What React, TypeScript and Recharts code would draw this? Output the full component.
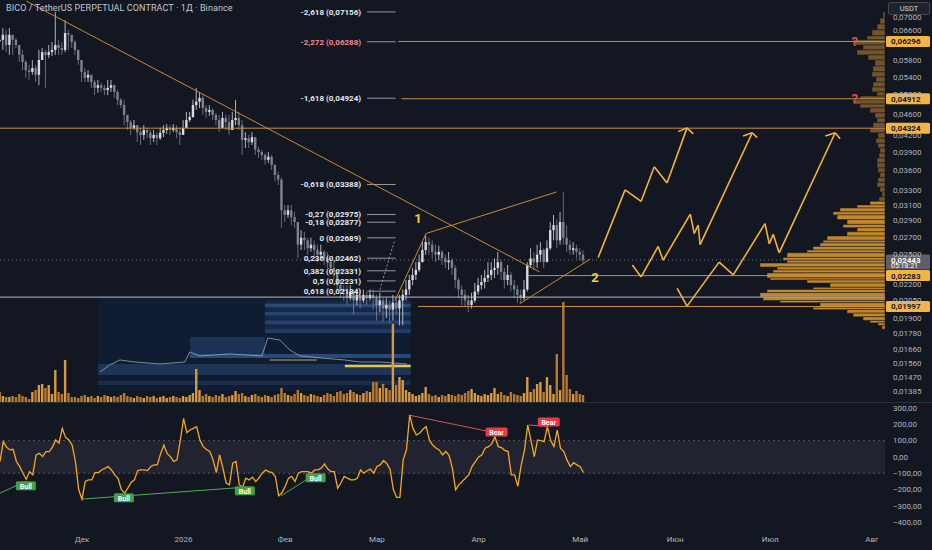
import React from 'react'
import { ComposedChart, Bar, Line, XAxis, YAxis, ReferenceLine, ReferenceArea, ReferenceDot, Cell } from 'recharts'

const BG = '#131722'
const FONT = 'Roboto, "Noto Sans", sans-serif'
const AXIS_TXT = '#b2b5be'
const UP = '#d9dbe0'
const DOWN = '#7e828f'
const ORANGE = '#c98f3f'
const PROJ = '#f2b33d'
const TAG_BG = '#f3b447'

// daily candles, day 0 = first visible candle (early Nov)
const START_OPEN = 0.0630
const CLOSE = [
  0.0634, 0.0648, 0.0620, 0.0648, 0.0634, 0.0620, 0.0594, 0.0576, 0.0556, 0.0552,
  0.0561, 0.0545, 0.0581, 0.0601, 0.0594, 0.0601, 0.0607, 0.0620, 0.0612, 0.0607,
  0.0653, 0.0648, 0.0628, 0.0607, 0.0581, 0.0552, 0.0538, 0.0545, 0.0528, 0.0515,
  0.0521, 0.0515, 0.0510, 0.0515, 0.0521, 0.0506, 0.0489, 0.0478, 0.0458, 0.0444,
  0.0433, 0.0438, 0.0425, 0.0420, 0.0429, 0.0424, 0.0414, 0.0420, 0.0414, 0.0424,
  0.0429, 0.0433, 0.0429, 0.0433, 0.0425, 0.0420, 0.0433, 0.0448, 0.0454, 0.0478,
  0.0485, 0.0493, 0.0472, 0.0464, 0.0468, 0.0458, 0.0448, 0.0433, 0.0452, 0.0444,
  0.0429, 0.0448, 0.0452, 0.0438, 0.0411, 0.0414, 0.0407, 0.0416, 0.0394, 0.0390,
  0.0385, 0.0377, 0.0382, 0.0369, 0.0353, 0.0346, 0.0303, 0.0297, 0.0303, 0.0294,
  0.0288, 0.0261, 0.0269, 0.0266, 0.0257, 0.0261, 0.0255, 0.0250, 0.0253, 0.0246,
  0.0242, 0.0236, 0.0232, 0.0219, 0.0215, 0.0213, 0.0207, 0.0213, 0.0205, 0.0210,
  0.0205, 0.0210, 0.0207, 0.0210, 0.0207, 0.0201, 0.0205, 0.0198, 0.0201, 0.0197,
  0.0203, 0.0198, 0.0205, 0.0210, 0.0215, 0.0224, 0.0229, 0.0234, 0.0242, 0.0255,
  0.0264, 0.0261, 0.0253, 0.0250, 0.0253, 0.0246, 0.0242, 0.0244, 0.0236, 0.0224,
  0.0215, 0.0210, 0.0205, 0.0201, 0.0205, 0.0213, 0.0219, 0.0222, 0.0226, 0.0229,
  0.0234, 0.0236, 0.0242, 0.0232, 0.0224, 0.0229, 0.0219, 0.0215, 0.0210, 0.0207,
  0.0215, 0.0239, 0.0246, 0.0242, 0.0250, 0.0255, 0.0242, 0.0257, 0.0278, 0.0284,
  0.0266, 0.0288, 0.0269, 0.0261, 0.0255, 0.0257, 0.0253, 0.0250, 0.0244,
]
const HIGH = [
  0.0667, 0.0667, 0.0662, 0.0667, 0.0639, 0.0639, 0.0620, 0.0607, 0.0581, 0.0569,
  0.0581, 0.0569, 0.0607, 0.0612, 0.0607, 0.0620, 0.0628, 0.0715, 0.0634, 0.0628,
  0.0691, 0.0662, 0.0648, 0.0634, 0.0607, 0.0581, 0.0561, 0.0556, 0.0545, 0.0533,
  0.0533, 0.0526, 0.0521, 0.0533, 0.0533, 0.0521, 0.0510, 0.0493, 0.0489, 0.0458,
  0.0448, 0.0448, 0.0438, 0.0433, 0.0438, 0.0433, 0.0429, 0.0429, 0.0425, 0.0433,
  0.0438, 0.0440, 0.0438, 0.0440, 0.0438, 0.0433, 0.0448, 0.0464, 0.0464, 0.0489,
  0.0515, 0.0506, 0.0499, 0.0478, 0.0478, 0.0472, 0.0462, 0.0458, 0.0464, 0.0458,
  0.0458, 0.0464, 0.0489, 0.0464, 0.0448, 0.0425, 0.0420, 0.0425, 0.0411, 0.0399,
  0.0394, 0.0388, 0.0390, 0.0385, 0.0364, 0.0358, 0.0349, 0.0310, 0.0310, 0.0310,
  0.0301, 0.0288, 0.0278, 0.0276, 0.0269, 0.0269, 0.0266, 0.0261, 0.0261, 0.0255,
  0.0253, 0.0246, 0.0242, 0.0234, 0.0224, 0.0219, 0.0219, 0.0219, 0.0215, 0.0216,
  0.0215, 0.0215, 0.0213, 0.0215, 0.0215, 0.0210, 0.0212, 0.0207, 0.0207, 0.0205,
  0.0210, 0.0207, 0.0210, 0.0215, 0.0224, 0.0229, 0.0236, 0.0242, 0.0250, 0.0264,
  0.0272, 0.0269, 0.0266, 0.0261, 0.0260, 0.0255, 0.0250, 0.0253, 0.0246, 0.0239,
  0.0226, 0.0219, 0.0215, 0.0210, 0.0212, 0.0221, 0.0226, 0.0229, 0.0234, 0.0242,
  0.0242, 0.0246, 0.0253, 0.0244, 0.0236, 0.0239, 0.0232, 0.0224, 0.0219, 0.0215,
  0.0224, 0.0242, 0.0257, 0.0253, 0.0261, 0.0264, 0.0257, 0.0266, 0.0288, 0.0297,
  0.0291, 0.0301, 0.0328, 0.0284, 0.0266, 0.0264, 0.0261, 0.0257, 0.0255,
]
const LOW = [
  0.0594, 0.0607, 0.0601, 0.0594, 0.0594, 0.0612, 0.0576, 0.0556, 0.0538, 0.0533,
  0.0545, 0.0528, 0.0521, 0.0581, 0.0515, 0.0586, 0.0591, 0.0594, 0.0594, 0.0594,
  0.0601, 0.0607, 0.0612, 0.0594, 0.0569, 0.0528, 0.0528, 0.0528, 0.0515, 0.0499,
  0.0504, 0.0506, 0.0499, 0.0499, 0.0506, 0.0493, 0.0478, 0.0472, 0.0438, 0.0429,
  0.0420, 0.0429, 0.0407, 0.0402, 0.0411, 0.0414, 0.0402, 0.0407, 0.0402, 0.0411,
  0.0416, 0.0422, 0.0420, 0.0425, 0.0414, 0.0402, 0.0420, 0.0433, 0.0444, 0.0452,
  0.0468, 0.0472, 0.0458, 0.0452, 0.0456, 0.0448, 0.0438, 0.0425, 0.0438, 0.0429,
  0.0420, 0.0433, 0.0438, 0.0429, 0.0385, 0.0397, 0.0397, 0.0402, 0.0385, 0.0380,
  0.0377, 0.0369, 0.0372, 0.0361, 0.0343, 0.0338, 0.0281, 0.0288, 0.0293, 0.0284,
  0.0281, 0.0246, 0.0255, 0.0255, 0.0250, 0.0253, 0.0246, 0.0242, 0.0244, 0.0239,
  0.0236, 0.0229, 0.0224, 0.0213, 0.0207, 0.0205, 0.0201, 0.0205, 0.0193, 0.0201,
  0.0198, 0.0203, 0.0201, 0.0205, 0.0197, 0.0188, 0.0195, 0.0187, 0.0190, 0.0186,
  0.0188, 0.0193, 0.0184, 0.0184, 0.0205, 0.0210, 0.0219, 0.0224, 0.0232, 0.0242,
  0.0250, 0.0250, 0.0246, 0.0242, 0.0244, 0.0239, 0.0236, 0.0234, 0.0229, 0.0216,
  0.0207, 0.0201, 0.0200, 0.0195, 0.0198, 0.0203, 0.0210, 0.0215, 0.0216, 0.0222,
  0.0224, 0.0226, 0.0229, 0.0224, 0.0216, 0.0219, 0.0213, 0.0207, 0.0203, 0.0203,
  0.0205, 0.0213, 0.0236, 0.0234, 0.0236, 0.0242, 0.0236, 0.0242, 0.0255, 0.0266,
  0.0257, 0.0261, 0.0261, 0.0253, 0.0250, 0.0250, 0.0246, 0.0244, 0.0241,
]
const VOLUME = [
  10, 6, 5, 5, 6, 5, 8, 6, 5, 3,
  10, 12, 17, 18, 14, 17, 8, 32, 10, 8,
  42, 9, 5, 5, 4, 6, 7, 5, 6, 4,
  6, 5, 7, 6, 5, 6, 5, 7, 9, 6,
  5, 4, 6, 5, 4, 6, 5, 6, 4, 5,
  6, 4, 5, 6, 5, 4, 6, 5, 7, 9,
  33, 12, 6, 8, 6, 5, 7, 6, 8, 5,
  6, 7, 11, 8, 9, 6, 5, 7, 8, 6,
  5, 7, 6, 5, 7, 8, 14, 9, 7, 6,
  8, 12, 9, 7, 6, 8, 7, 6, 5, 7,
  9, 8, 6, 10, 11, 8, 9, 12, 10, 8,
  7, 9, 11, 10, 20, 20, 14, 18, 14, 12,
  78, 17, 25, 22, 12, 10, 8, 6, 7, 9,
  15, 8, 6, 7, 5, 7, 6, 8, 7, 6,
  8, 7, 9, 11, 13, 9, 7, 6, 8, 7,
  9, 14, 8, 10, 7, 6, 10, 8, 7, 6,
  9, 25, 10, 13, 18, 20, 10, 25, 17, 8,
  48, 12, 100, 27, 13, 8, 11, 8, 7,
]
const OSC = [
  -28, 94, 60, 43, 47, -28, -60, -100, -137, -90,
  -110, 12, 22, 2, 33, 33, 60, 104, 84, 175,
  120, 104, 73, -28, -200, -259, -151, -141, -141, -96,
  -96, -80, -70, -59, -80, -110, -131, -200, -222, -192,
  -157, -141, -84, -80, -80, -84, -59, -49, -49, 20,
  73, 20, 2, -28, -18, 100, 236, 149, 165, 175,
  186, 104, 63, 45, 33, -18, -96, 12, -69, -160,
  -171, -39, -28, -171, -186, -131, -141, -124, -151, -130,
  -100, -80, -90, -96, -120, -238, -220, -181, -131, -120,
  -151, -100, -90, -90, -90, -100, -80, -80, -69, -43,
  -75, -90, -90, -192, -160, -120, -130, -141, -141, -131,
  -80, -100, -85, -75, -100, -59, -49, -22, -40, -75,
  -200, -249, -249, -18, 43, 257, 175, 135, 145, 170,
  186, 104, 73, 55, 43, 12, 33, 10, -69, -202,
  -170, -151, -131, -110, -59, -30, 0, 12, 53, 63,
  80, 124, 63, 57, 40, 33, -110, -110, -181, -50,
  40, 196, 100, 2, 104, 100, 94, 186, 100, 63,
  165, 53, 33, -20, -59, -35, -49, -60, -96,
]

const MONTH_TICKS = [25, 56, 87, 115, 146, 177, 206, 235, 266]
const MONTH_LABELS = ['Дек', '2026', 'Фев', 'Мар', 'Апр', 'Май', 'Июн', 'Июл', 'Авг']
const PRICE_TICKS = [0.07, 0.066, 0.058, 0.054, 0.05, 0.046, 0.042, 0.039, 0.036, 0.033, 0.031, 0.029, 0.027, 0.025, 0.022, 0.0205, 0.019, 0.0178, 0.0166, 0.0156, 0.0147, 0.01385]
const OSC_TICKS = [300, 200, 100, 0, -100, -200, -300, -400]

const FIB_LEVELS = [-2.618, -2.272, -1.618, -0.618, -0.27, -0.18, 0, 0.236, 0.382, 0.5, 0.618]
const FIB_PRICES = [0.07156, 0.06288, 0.04924, 0.03388, 0.02975, 0.02877, 0.02689, 0.02462, 0.02331, 0.02231, 0.02134]

// visible range volume profile: bin edges (price) and relative volume per bin
const PROFILE_EDGES = [
  0.0715, 0.0697, 0.0679, 0.0662, 0.0645, 0.0634, 0.0620, 0.0607, 0.0594, 0.0581,
  0.0566, 0.0552, 0.0540, 0.0528, 0.0517, 0.0506, 0.0497, 0.0489, 0.0480, 0.0472,
  0.0462, 0.0452, 0.0443, 0.0433, 0.0424, 0.0414, 0.0405, 0.0397, 0.0388, 0.0380,
  0.0372, 0.0364, 0.0357, 0.0349, 0.0342, 0.0335, 0.0328, 0.0321, 0.0315, 0.0310,
  0.0306, 0.0301, 0.0297, 0.0291, 0.0285, 0.0281, 0.0276, 0.0271, 0.0266, 0.0263,
  0.0259, 0.0255, 0.0252, 0.0247, 0.0244, 0.0241, 0.0237, 0.0234, 0.0231, 0.0226,
  0.0224, 0.0221, 0.0217, 0.0215, 0.0212, 0.0208, 0.0205, 0.0203, 0.0199, 0.0197,
  0.0194, 0.0191, 0.0188, 0.0186, 0.0184, 0.0181,
]
const PROFILE_VOL = [
  2, 5, 8, 13, 18, 32, 22, 28, 17, 10,
  12, 13, 9, 12, 13, 8, 25, 32, 25, 15,
  10, 8, 12, 15, 7, 9, 7, 5, 6, 8,
  8, 7, 5, 7, 8, 5, 3, 6, 15, 28,
  45, 52, 48, 38, 42, 28, 38, 58, 62, 65,
  72, 78, 98, 102, 98, 125, 108, 112, 118, 115,
  78, 55, 72, 118, 125, 122, 105, 65, 72, 38,
  32, 22, 15, 7, 3,
]

// projected paths (day, price)
const PATH_A = [[182.5, 0.0247], [190.7, 0.0331], [195.6, 0.0315], [199.6, 0.0366], [203.5, 0.0341], [209.6, 0.0433]]
const PATH_B = [[192.9, 0.0239], [195.6, 0.0227], [200.8, 0.0259], [202.3, 0.0244], [210.6, 0.0298], [211.8, 0.0274], [213, 0.0284], [213.6, 0.0261], [229.5, 0.0424]]
const PATH_C = [[206.6, 0.0216], [209.6, 0.0200], [219.4, 0.0242], [223.7, 0.0229], [233.4, 0.0286], [234.7, 0.0262], [235.9, 0.0273], [237.7, 0.0252], [254.8, 0.0424]]
const ARROW_WINGS = [
  [[206.9, 0.0426], [211.5, 0.0422]],
  [[226.7, 0.0418], [231, 0.0415]],
  [[251.8, 0.0418], [256.3, 0.0413]],
]

// pasted heatmap screenshot, drawn in the price space it covers
const INSET_SQUIGGLE = [[30.5, 0.01504], [33.5, 0.0155], [36.6, 0.01584], [41.2, 0.0157], [48.8, 0.01557], [56.4, 0.0157], [57.9, 0.0164], [61, 0.01612], [70.1, 0.01626], [79.9, 0.01612], [81.7, 0.01742], [85.4, 0.01727], [88.4, 0.01654], [91.5, 0.01612], [97.6, 0.01598], [105.2, 0.01584], [109.8, 0.0157], [115.9, 0.0157], [124.1, 0.01557]]
const INSET_BANDS: [number, number, number, number, string][] = [
  [29.9, 125.3, 0.01385, 0.0207, '#101c31'],
  [29.9, 125.3, 0.01484, 0.01557, '#1d3457'],
  [80.8, 125.3, 0.0180, 0.0205, '#15284a'],
  [80.8, 125.3, 0.0199, 0.0202, '#2c4a74'],
  [80.8, 125.3, 0.0192, 0.0195, '#27436b'],
  [80.8, 125.3, 0.0185, 0.0188, '#27436b'],
  [80.8, 125.3, 0.0178, 0.0181, '#223d63'],
  [57.9, 80.8, 0.0162, 0.0175, '#1a3256'],
  [57.9, 125.3, 0.01598, 0.01626, '#2a4a76'],
  [29.9, 125.3, 0.01421, 0.01447, '#192d4c'],
  [105.2, 125.3, 0.01535, 0.01552, '#e6c547'],
  [82.3, 96.6, 0.0158, 0.01588, '#bfae58'],
]

const PRICE_DOMAIN = [0.013203, 0.07535]
const OSC_DOMAIN = [-461, 331]
const X_MAX = 270
const PROFILE_DAYS_PER_UNIT = 270 / 885

const rows = CLOSE.map((c, i) => {
  const o = i === 0 ? START_OPEN : CLOSE[i - 1]
  return { d: i, o, c, hi: Math.max(HIGH[i], o, c), lo: Math.min(LOW[i], o, c), vol: VOLUME[i], osc: OSC[i] }
})

const fmtPrice = (v: number) => v.toFixed(5).replace('.', ',')
const fmtOsc = (v: number) => v.toFixed(2).replace('.', ',').replace('-', '−')
const fmtLevel = (v: number) => String(v).replace('.', ',')

function Candle(props: any) {
  const { x, y, width, height, payload } = props
  if (!payload || x == null || y == null) return null
  const { o, c, hi, lo } = payload
  const span = Math.log(hi) - Math.log(lo)
  const py = (v: number) => (span > 0 ? y + ((Math.log(hi) - Math.log(v)) / span) * height : y)
  const col = c >= o ? UP : DOWN
  const top = py(Math.max(o, c))
  const bot = py(Math.min(o, c))
  const cx = x + width / 2
  return (
    <g>
      <line x1={cx} x2={cx} y1={y} y2={y + height} stroke={col} strokeWidth={0.8} />
      <rect x={x} y={top} width={width} height={Math.max(0.8, bot - top)} fill={col} />
    </g>
  )
}

function AxisTag(props: any) {
  const { viewBox, text, sub, bg, color } = props
  if (!viewBox) return null
  const x = viewBox.x + viewBox.width + 1
  const y = viewBox.y - 5.5
  return (
    <g>
      <rect x={x} y={y} width={44} height={sub ? 15 : 11} rx={1.5} fill={bg} />
      <text x={x + 5} y={y + 8.5} fontSize={8} fontWeight={700} fill={color} fontFamily={FONT}>{text}</text>
      {sub && <text x={x + 5} y={y + 14} fontSize={7} fill={color} fontFamily={FONT}>{sub}</text>}
    </g>
  )
}

function Tag({ cx, cy, text, bg, w }: any) {
  return (
    <g>
      <rect x={cx - w / 2} y={cy - 4.5} width={w} height={9} rx={1.5} fill={bg} />
      <text x={cx} y={cy + 3} textAnchor="middle" fontSize={7} fontWeight={700} fill="#ffffff" fontFamily={FONT}>{text}</text>
    </g>
  )
}

function BigText({ cx, cy, text, color, size }: any) {
  return (
    <text x={cx} y={cy + size * 0.35} textAnchor="middle" fontSize={size} fontWeight={700} fill={color} fontFamily={FONT}>{text}</text>
  )
}

const segs = (pts: number[][]) => pts.slice(1).map((p, i) => [pts[i], p])

export default function App() {
  return (
    <div style={{ position: 'fixed', left: 0, top: 0, width: 932, height: 550, background: BG, overflow: 'hidden', fontFamily: FONT }}>
      {/* volume + inset layer */}
      <div style={{ position: 'absolute', left: 0, top: 0 }}>
        <ComposedChart width={932} height={402} data={rows} margin={{ top: 0, right: 47, bottom: 0, left: 0 }}>
          <XAxis dataKey="d" type="number" domain={[0, X_MAX]} hide allowDataOverflow />
          <YAxis yAxisId="p" scale="log" domain={PRICE_DOMAIN} hide allowDataOverflow />
          <YAxis yAxisId="v" domain={[0, 402]} hide allowDataOverflow />
          {INSET_BANDS.map(([x1, x2, y1, y2, fill], i) => (
            <ReferenceArea key={'ib' + i} yAxisId="p" x1={x1} x2={x2} y1={y1} y2={y2} fill={fill} fillOpacity={1} stroke="none" />
          ))}
          {segs(INSET_SQUIGGLE).map(([a, b], i) => (
            <ReferenceLine key={'sq' + i} yAxisId="p" segment={[{ x: a[0], y: a[1] }, { x: b[0], y: b[1] }]} stroke="#aeb9cc" strokeWidth={0.7} />
          ))}
          <Bar yAxisId="v" dataKey="vol" barSize={2.4} isAnimationActive={false}>
            {rows.map((r, i) => (
              <Cell key={i} fill={r.c >= r.o ? '#d89a40' : '#b8782e'} />
            ))}
          </Bar>
        </ComposedChart>
      </div>

      {/* price layer */}
      <div style={{ position: 'absolute', left: 0, top: 0 }}>
        <ComposedChart width={932} height={402} data={rows} margin={{ top: 0, right: 0, bottom: 0, left: 0 }}>
          <XAxis dataKey="d" type="number" domain={[0, X_MAX]} hide allowDataOverflow />
          <YAxis orientation="right" width={47} scale="log" domain={PRICE_DOMAIN} allowDataOverflow
            ticks={PRICE_TICKS} interval={0} tickFormatter={fmtPrice} axisLine={false} tickLine={false}
            tick={{ fontSize: 8, fill: AXIS_TXT, fontFamily: FONT }} />

          {PROFILE_VOL.map((v, i) => (
            <ReferenceArea key={'pf' + i} x1={X_MAX - v * PROFILE_DAYS_PER_UNIT} x2={X_MAX}
              y1={PROFILE_EDGES[i + 1]} y2={PROFILE_EDGES[i]}
              fill={PROFILE_EDGES[i] <= 0.0316 ? '#d4952f' : '#7d5c2e'} fillOpacity={0.9} stroke={BG} strokeWidth={0.5} />
          ))}

          <ReferenceLine y={0.0208} stroke="#b9bcc4" strokeWidth={1} />
          <ReferenceLine y={0.02443} stroke="#787b86" strokeDasharray="1 3" label={<AxisTag text="0,02443" sub="05:18:21" bg="#5d606b" color="#ffffff" />} />
          <ReferenceLine y={0.04324} stroke={ORANGE} label={<AxisTag text="0,04324" bg={TAG_BG} color="#131722" />} />
          <ReferenceLine segment={[{ x: 121.5, y: 0.06296 }, { x: X_MAX, y: 0.06296 }]} stroke={ORANGE} label={<AxisTag text="0,06296" bg={TAG_BG} color="#131722" />} />
          <ReferenceLine segment={[{ x: 122.5, y: 0.04912 }, { x: X_MAX, y: 0.04912 }]} stroke={ORANGE} label={<AxisTag text="0,04912" bg={TAG_BG} color="#131722" />} />
          <ReferenceLine segment={[{ x: 161, y: 0.02283 }, { x: X_MAX, y: 0.02283 }]} stroke={ORANGE} label={<AxisTag text="0,02283" bg={TAG_BG} color="#131722" />} />
          <ReferenceLine segment={[{ x: 127.5, y: 0.01997 }, { x: X_MAX, y: 0.01997 }]} stroke={ORANGE} label={<AxisTag text="0,01997" bg={TAG_BG} color="#131722" />} />

          {FIB_PRICES.map((p, i) => (
            <ReferenceLine key={'fib' + i} segment={[{ x: 112, y: p }, { x: 120.7, y: p }]} stroke="#9598a1"
              label={{ value: `${fmtLevel(FIB_LEVELS[i])} (${fmtPrice(p)})`, position: 'left', offset: 6, fontSize: 8, fontWeight: 700, fill: FIB_LEVELS[i] === -2.272 ? '#f28b8b' : '#e6e8ee', fontFamily: FONT }} />
          ))}
          <ReferenceLine segment={[{ x: 115.9, y: 0.0215 }, { x: 120.4, y: 0.0266 }]} stroke="#9598a1" strokeDasharray="2 2" />

          <ReferenceLine segment={[{ x: 8, y: 0.075 }, { x: 164.6, y: 0.0232 }]} stroke="#c68a3a" strokeWidth={1} />
          <ReferenceLine segment={[{ x: 120.5, y: 0.0205 }, { x: 130, y: 0.0274 }]} stroke="#c68a3a" strokeWidth={1} />
          <ReferenceLine segment={[{ x: 130, y: 0.0274 }, { x: 169.8, y: 0.0328 }]} stroke="#c68a3a" strokeWidth={1} />
          <ReferenceLine segment={[{ x: 158.5, y: 0.0202 }, { x: 180, y: 0.0245 }]} stroke="#c68a3a" strokeWidth={1} />

          <Bar dataKey={(r: any) => [r.lo, r.hi]} barSize={2.4} isAnimationActive={false} shape={(p: any) => <Candle {...p} />} />

          {[PATH_A, PATH_B, PATH_C].map((path, k) =>
            segs(path).map(([a, b], i) => (
              <ReferenceLine key={`pr${k}-${i}`} segment={[{ x: a[0], y: a[1] }, { x: b[0], y: b[1] }]} stroke={PROJ} strokeWidth={1.6} />
            ))
          )}
          {[PATH_A, PATH_B, PATH_C].map((path, k) =>
            ARROW_WINGS[k].map((w, i) => {
              const tip = path[path.length - 1]
              return <ReferenceLine key={`aw${k}-${i}`} segment={[{ x: tip[0], y: tip[1] }, { x: w[0], y: w[1] }]} stroke={PROJ} strokeWidth={1.6} />
            })
          )}

          <ReferenceDot x={127.5} y={0.0292} r={0} shape={(p: any) => <BigText {...p} text="1" color="#e8d53c" size={13} />} />
          <ReferenceDot x={181.5} y={0.0226} r={0} shape={(p: any) => <BigText {...p} text="2" color="#e8d53c" size={13} />} />
          <ReferenceDot x={260.8} y={0.06296} r={0} shape={(p: any) => <BigText {...p} text="?" color="#e5484d" size={13} />} />
          <ReferenceDot x={260.8} y={0.04912} r={0} shape={(p: any) => <BigText {...p} text="?" color="#e5484d" size={13} />} />
        </ComposedChart>
      </div>

      <div style={{ position: 'absolute', left: 0, top: 402, width: 932, height: 1, background: '#2a2e39' }} />

      {/* oscillator pane */}
      <div style={{ position: 'absolute', left: 0, top: 402 }}>
        <ComposedChart width={932} height={148} data={rows} margin={{ top: 1, right: 0, bottom: 0, left: 0 }}>
          <XAxis dataKey="d" type="number" domain={[0, X_MAX]} allowDataOverflow ticks={MONTH_TICKS} interval={0}
            tickFormatter={(v: number) => MONTH_LABELS[MONTH_TICKS.indexOf(v)] ?? ''} height={18}
            axisLine={false} tickLine={false} tickSize={2} tickMargin={2}
            tick={{ fontSize: 8, fill: AXIS_TXT, fontFamily: FONT }} />
          <YAxis orientation="right" width={47} domain={OSC_DOMAIN} allowDataOverflow ticks={OSC_TICKS} interval={0}
            tickFormatter={fmtOsc} axisLine={false} tickLine={false} tick={{ fontSize: 8, fill: AXIS_TXT, fontFamily: FONT }} />
          <ReferenceArea y1={-100} y2={100} fill="#787b86" fillOpacity={0.14} stroke="none" />
          <ReferenceLine y={100} stroke="#50535e" strokeDasharray="2 3" />
          <ReferenceLine y={-100} stroke="#50535e" strokeDasharray="2 3" />

          <ReferenceLine segment={[{ x: 0, y: -222 }, { x: 7.8, y: -151 }]} stroke="#4caf50" />
          <ReferenceLine segment={[{ x: 25, y: -259 }, { x: 74.7, y: -186 }]} stroke="#4caf50" />
          <ReferenceLine segment={[{ x: 85.8, y: -238 }, { x: 93.4, y: -141 }]} stroke="#4caf50" />
          <ReferenceLine segment={[{ x: 124.7, y: 257 }, { x: 149.4, y: 155 }]} stroke="#d9545c" />
          <ReferenceLine segment={[{ x: 161.4, y: 196 }, { x: 167.2, y: 186 }]} stroke="#d9545c" />

          <Line dataKey="osc" stroke="#f5a623" strokeWidth={1.3} dot={false} isAnimationActive={false} />

          <ReferenceDot x={7.9} y={-177} r={0} shape={(p: any) => <Tag {...p} text="Bull" bg="#43a047" w={20} />} />
          <ReferenceDot x={37.8} y={-251} r={0} shape={(p: any) => <Tag {...p} text="Bull" bg="#43a047" w={20} />} />
          <ReferenceDot x={74.7} y={-208} r={0} shape={(p: any) => <Tag {...p} text="Bull" bg="#43a047" w={20} />} />
          <ReferenceDot x={96.3} y={-128} r={0} shape={(p: any) => <Tag {...p} text="Bull" bg="#43a047" w={20} />} />
          <ReferenceDot x={151.5} y={153} r={0} shape={(p: any) => <Tag {...p} text="Bear" bg="#f23645" w={22} />} />
          <ReferenceDot x={167.4} y={214} r={0} shape={(p: any) => <Tag {...p} text="Bear" bg="#f23645" w={22} />} />
        </ComposedChart>
      </div>

      <div style={{ position: 'absolute', left: 6, top: 3, fontSize: 9, color: '#c3c6ce', letterSpacing: 0.1 }}>
        BICO / TetherUS PERPETUAL CONTRACT · 1Д · Binance
      </div>
      <div style={{ position: 'absolute', left: 888, top: 2, width: 40, height: 11, border: '1px solid #434651', borderRadius: 2, background: '#1e222d', color: '#d1d4dc', fontSize: 7.5, lineHeight: '11px', textAlign: 'center' }}>
        USDT
      </div>
    </div>
  )
}
